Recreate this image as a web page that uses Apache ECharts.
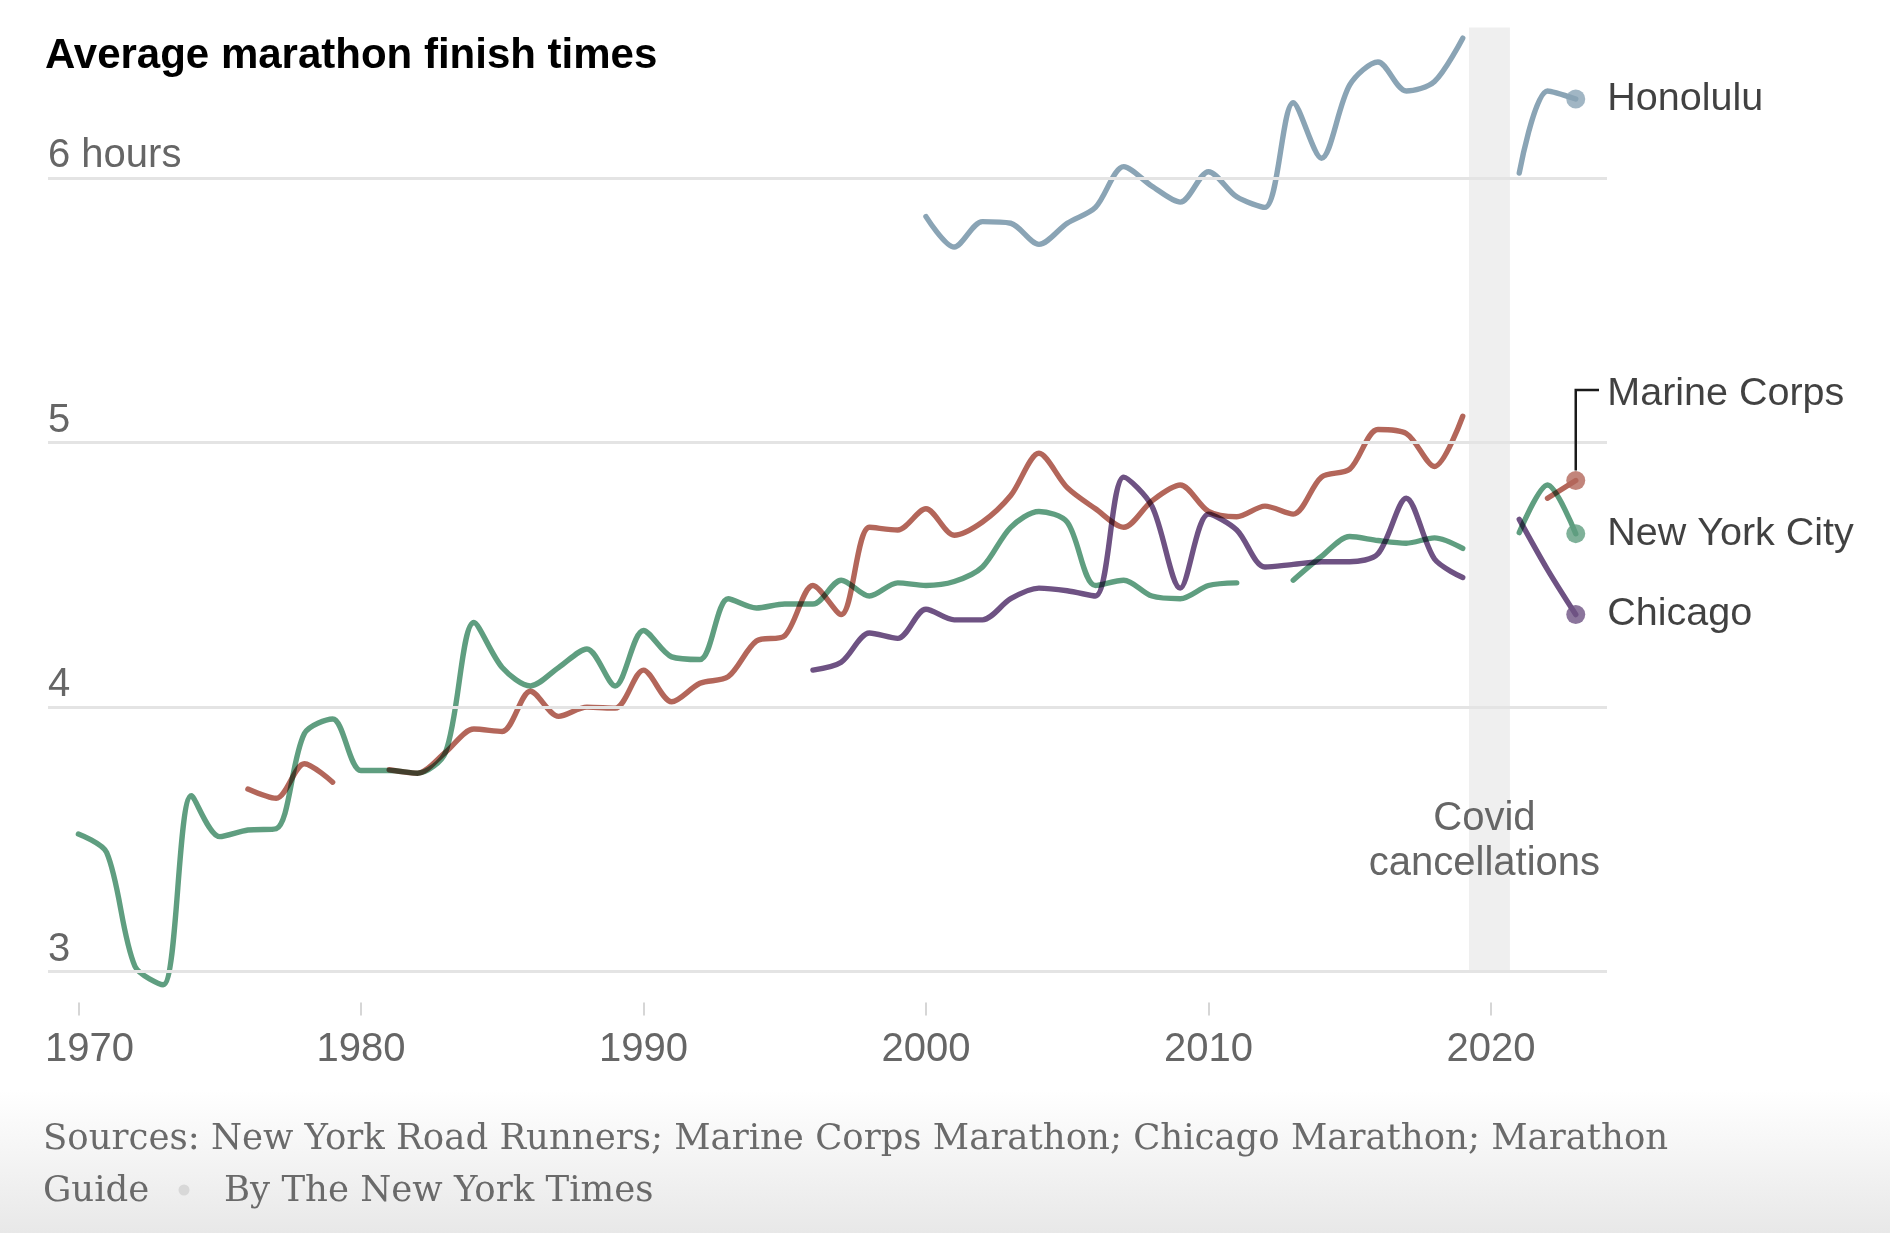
<!DOCTYPE html>
<html>
<head>
<meta charset="utf-8">
<script src="https://cdn.jsdelivr.net/npm/echarts@6/dist/echarts.min.js"></script>
<style>
html,body{margin:0;padding:0;width:1890px;height:1233px;overflow:hidden;
background:linear-gradient(to bottom,#ffffff 0px,#ffffff 1090px,#e8e8e8 1233px);}
#chart{width:1890px;height:1233px;}
</style>
</head>
<body>
<div id="chart"></div>
<script>
// ---------------- DATA ----------------
const years = [1970,1971,1972,1973,1974,1975,1976,1977,1978,1979,
  1980,1981,1982,1983,1984,1985,1986,1987,1988,1989,
  1990,1991,1992,1993,1994,1995,1996,1997,1998,1999,
  2000,2001,2002,2003,2004,2005,2006,2007,2008,2009,
  2010,2011,2012,2013,2014,2015,2016,2017,2018,2019,
  2020,2021,2022,2023];

// average finish time in hours
const newYorkCity = [3.52,3.45,3.02,2.95,3.665,3.51,3.535,3.54,3.90,3.955,
  3.76,3.76,3.75,3.83,4.32,4.15,4.08,4.15,4.22,4.08,
  4.29,4.19,4.18,4.41,4.375,4.39,4.39,4.48,4.42,4.47,
  4.46,4.475,4.53,4.68,4.74,4.70,4.46,4.48,4.42,4.41,
  4.46,4.47,null,4.48,4.57,4.645,4.63,4.62,4.64,4.60,
  null,4.66,4.84,4.656];

const marineCorps = [null,null,null,null,null,null,3.69,3.655,3.786,3.716,
  null,3.763,3.75,3.83,3.917,3.908,4.06,3.965,4.00,3.996,
  4.14,4.02,4.09,4.115,4.25,4.27,4.46,4.35,4.68,4.67,
  4.75,4.65,4.70,4.80,4.96,4.83,4.75,4.68,4.78,4.84,
  4.74,4.72,4.76,4.73,4.87,4.90,5.05,5.035,4.91,5.10,
  null,null,4.79,4.857];

const chicago = [null,null,null,null,null,null,null,null,null,null,
  null,null,null,null,null,null,null,null,null,null,
  null,null,null,null,null,null,4.14,4.17,4.28,4.26,
  4.37,4.33,4.33,4.41,4.45,4.44,4.42,4.87,4.76,4.45,
  4.73,4.67,4.53,4.54,4.55,4.55,4.58,4.79,4.56,4.49,
  null,4.71,4.52,4.35];

const honolulu = [null,null,null,null,null,null,null,null,null,null,
  null,null,null,null,null,null,null,null,null,null,
  null,null,null,null,null,null,null,null,null,null,
  5.855,5.74,5.836,5.83,5.75,5.83,5.89,6.044,5.97,5.91,
  6.025,5.93,5.89,6.286,6.076,6.353,6.44,6.33,6.366,6.53,
  null,6.02,6.33,6.30];

const seriesNames = ['Honolulu','Marine Corps','New York City','Chicago'];
const xTicks = [1970,1980,1990,2000,2010,2020];
const yTicks = [3,4,5,6];
const yTickLabels = ['3','4','5','6 hours'];
const covidSpan = [2019.22, 2020.67];
const titleText = 'Average marathon finish times';
const covidText = 'Covid\ncancellations';
const sourceLine1 = 'Sources: New York Road Runners; Marine Corps Marathon; Chicago Marathon; Marathon';
const sourceLine2a = 'Guide';
const sourceLine2b = 'By The New York Times';

// ---------------- STYLE ----------------
const colors = {
  'Honolulu': '#8aa4b5',
  'Marine Corps': '#b3665a',
  'New York City': '#5f9e80',
  'Chicago': '#6e5283'
};
const FONT = '"Liberation Sans", Arial, sans-serif';
const SERIF = '"DejaVu Serif", serif';

const seriesValues = [honolulu, marineCorps, newYorkCity, chicago];

function pairs(arr){ return years.map((y,i)=>[y, arr[i]]); }
function lastValue(arr){ return arr[arr.length-1]; }
const lastYear = years[years.length-1];

const chart = echarts.init(document.getElementById('chart'), null, {renderer:'canvas'});

const lineSeries = seriesNames.map((n,k)=>({
  type:'line', name:n, data: pairs(seriesValues[k]),
  symbol:'none', showSymbol:false, smooth:0.3, clip:false,
  connectNulls:false, silent:true, z:3,
  lineStyle:{color:colors[n], width:5.4, cap:'round', join:'round'}
}));

const endDots = {
  type:'scatter', name:'ends', silent:true, z:6, symbolSize:19, clip:false,
  data: seriesNames.map((n,k)=>({
    name:n, value:[lastYear, lastValue(seriesValues[k])],
    itemStyle:{color:colors[n]},
    label: n==='Marine Corps' ? {offset:[0,-86]} : {}
  })),
  label:{show:true, position:'right', distance:22, formatter:'{b}',
    color:'#111', fontSize:39.5, fontFamily:FONT}
};

const frame = {
  type:'line', name:'frame', data:[], silent:true, z:1,
  markArea:{silent:true, itemStyle:{color:'#efefef'},
    data:[[{xAxis:covidSpan[0]},{xAxis:covidSpan[1]}]]},
  markLine:{silent:true, symbol:['none','none'], label:{show:false},
    lineStyle:{color:'#e4e4e4', width:3, type:'solid'},
    emphasis:{disabled:true},
    data: yTicks.map(v=>({yAxis:v}))}
};

const option = {
  animation:false,
  backgroundColor:'transparent',
  textStyle:{fontFamily:FONT},
  grid:{left:48, right:283, top:27.6, bottom:261.5, containLabel:false},
  xAxis:{type:'value', min:1968.924, max:2024.106, offset:31,
    axisLine:{show:false}, splitLine:{show:false},
    axisTick:{show:true, customValues:xTicks, length:13, lineStyle:{color:'#d6d6d6', width:2}},
    axisLabel:{customValues:xTicks, margin:27, fontSize:40, color:'#666', fontFamily:FONT,
      formatter: v => v===xTicks[0] ? '{first|'+v+'}' : String(v),
      rich:{first:{padding:[0,0,0,22], fontSize:40, color:'#666', fontFamily:FONT}}}
  },
  yAxis:{type:'value', min:3, max:6.57,
    axisLine:{show:false}, axisTick:{show:false}, splitLine:{show:false},
    axisLabel:{customValues:yTicks, inside:true, margin:0, align:'left', verticalAlign:'bottom',
      padding:[0,0,2,0], fontSize:40, color:'#666', fontFamily:FONT,
      formatter: v => { const i = yTicks.indexOf(v); return i>=0 ? yTickLabels[i] : ''; }}
  },
  series:[frame].concat(lineSeries).concat([endDots])
};
chart.setOption(option);

// text fitting for the source line
function fitSize(text, family, target, base){
  const c = document.createElement('canvas').getContext('2d');
  c.font = base+'px '+family;
  return base*target/c.measureText(text).width;
}
const srcSize = Math.round(fitSize(sourceLine1, SERIF, 1625, 34)*10)/10;

const mcIdx = seriesNames.indexOf('Marine Corps');
const mcPt = chart.convertToPixel({xAxisIndex:0, yAxisIndex:0}, [lastYear, lastValue(seriesValues[mcIdx])]);
const covidX = chart.convertToPixel({xAxisIndex:0, yAxisIndex:0}, [(covidSpan[0]+covidSpan[1])/2, 3])[0];

chart.setOption({
  graphic:[
    {type:'text', x:45, y:56, z:50, silent:true,
      style:{text:titleText, font:'bold 42px '+FONT, fill:'#000', textAlign:'left', textVerticalAlign:'middle'}},
    {type:'text', x:covidX-5, y:841, z:50, silent:true,
      style:{text:covidText, font:'40px '+FONT, fill:'#666', textAlign:'center', textVerticalAlign:'middle', lineHeight:45}},
    {type:'polyline', silent:true, z:50,
      shape:{points:[[mcPt[0], mcPt[1]-10],[mcPt[0], 390],[1599, 390]]},
      style:{stroke:'#1a1a1a', lineWidth:2.5, fill:null}},
    {type:'text', x:43, y:1140, z:50, silent:true,
      style:{text:sourceLine1, font:srcSize+'px '+SERIF, fill:'#6a6a6a', textAlign:'left', textVerticalAlign:'middle'}},
    {type:'text', x:43, y:1192, z:50, silent:true,
      style:{text:sourceLine2a, font:srcSize+'px '+SERIF, fill:'#6a6a6a', textAlign:'left', textVerticalAlign:'middle'}},
    {type:'circle', silent:true, z:50, shape:{cx:184, cy:1190, r:5.5}, style:{fill:'#d8d8d8'}},
    {type:'text', x:224, y:1192, z:50, silent:true,
      style:{text:sourceLine2b, font:srcSize+'px '+SERIF, fill:'#6a6a6a', textAlign:'left', textVerticalAlign:'middle'}}
  ]
});

// multiply blending for overlapping lines
(function(){
  const zr = chart.getZr();
  zr.storage.getDisplayList(true).forEach(el=>{
    if (el.type === 'ec-polyline') { el.style.blend = 'multiply'; el.markRedraw(); }
  });
  zr.refreshImmediately();
})();
</script>
</body>
</html>
